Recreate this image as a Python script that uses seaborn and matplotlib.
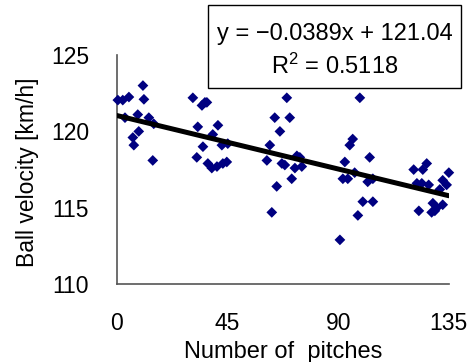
"""
Ball velocity vs number of pitches — scatter with linear trend line.
"""

import numpy as np
import pandas as pd
import matplotlib
matplotlib.use("Agg")
import matplotlib.pyplot as plt
from matplotlib.patches import Rectangle
import seaborn as sns

# ── Data ────────────────────────────────────────────────────────────────────
pitches = [
    0.4, 2.4, 4.9, 10.6, 11.0, 3.3, 8.5, 13.0, 15.0, 6.5, 8.9, 6.9, 14.6,
    30.9, 34.6, 35.8, 36.6, 32.9, 41.1, 39.0, 35.0, 32.5, 37.0, 38.6, 40.7,
    43.1, 44.7, 42.7, 45.1,
    69.1, 64.2, 70.3, 66.3, 62.2, 61.0, 67.1, 68.3, 73.2, 74.4, 75.2, 72.4,
    71.1, 65.0, 63.0,
    98.8, 95.9, 94.7, 92.7, 91.9, 93.9, 102.8, 96.7, 102.0, 104.1, 100.0,
    104.1, 98.0, 90.7,
    126.0, 120.7, 124.4, 135.0, 132.5, 134.1, 122.0, 124.0, 126.8, 131.3,
    122.8, 128.5, 132.5, 128.0, 129.3, 130.1,
]
velocity = [
    122.05, 122.05, 122.25, 123.0, 122.1, 120.9, 121.1, 120.9, 120.5, 119.6,
    120.0, 119.1, 118.1,
    122.2, 121.7, 121.9, 121.9, 120.3, 120.4, 119.8, 119.0, 118.3, 117.9,
    117.6, 117.7, 117.9, 118.0, 119.1, 119.2,
    122.2, 120.9, 120.9, 120.0, 119.1, 118.1, 117.9, 117.8, 118.4, 118.3,
    117.7, 117.6, 116.9, 116.4, 114.7,
    122.2, 119.5, 119.1, 118.0, 116.9, 116.9, 118.3, 117.3, 116.7, 116.9,
    115.4, 115.4, 114.5, 112.9,
    117.9, 117.5, 117.5, 117.3, 116.8, 116.5, 116.6, 116.6, 116.5, 116.2,
    114.8, 115.3, 115.2, 114.7, 114.8, 115.0,
]

# trend line reported in the chart
slope     = -0.0389
intercept = 121.04
r_squared = 0.5118

x_ticks = [0, 45, 90, 135]
y_ticks = [110, 115, 120, 125]

# ── Plot ────────────────────────────────────────────────────────────────────
sns.set_style("white")
plt.rcParams["font.family"] = ["Liberation Sans", "DejaVu Sans"]
plt.rcParams["text.color"] = "black"
plt.rcParams["axes.labelcolor"] = "black"
plt.rcParams["xtick.labelcolor"] = "black"
plt.rcParams["ytick.labelcolor"] = "black"

df = pd.DataFrame({"pitches": pitches, "velocity": velocity})
fit_x = np.array([x_ticks[0], x_ticks[-1]], dtype=float)
fit = pd.DataFrame({"pitches": fit_x, "velocity": intercept + slope * fit_x})

fig = plt.figure(figsize=(4.77, 3.62), dpi=100)
ax = fig.add_axes([0.245, 0.215, 0.696, 0.633])

sns.scatterplot(
    data=df, x="pitches", y="velocity", ax=ax,
    marker="D", s=30, color="#000080", edgecolor="none", zorder=3,
    clip_on=False,
)
sns.lineplot(
    data=fit, x="pitches", y="velocity", ax=ax,
    color="black", linewidth=3.6, zorder=4,
)

ax.set_xlim(x_ticks[0], x_ticks[-1])
ax.set_ylim(y_ticks[0], y_ticks[-1])
ax.set_xticks(x_ticks)
ax.set_yticks(y_ticks)
ax.tick_params(direction="in", length=6, width=1, color="#555555",
               labelsize=16.5, pad=20, labelcolor="black")

for side in ("top", "right"):
    ax.spines[side].set_visible(False)
for side in ("left", "bottom"):
    ax.spines[side].set_color("#555555")
    ax.spines[side].set_linewidth(1.2)

ax.set_xlabel("Number of  pitches", fontsize=17, color="black")
ax.set_ylabel("Ball velocity [km/h]", fontsize=16.5, color="black")
ax.xaxis.set_label_coords(0.5, -0.25)
ax.yaxis.set_label_coords(-0.235, 0.49)

# equation box
fig.add_artist(Rectangle((0.436, 0.757), 0.530, 0.229, transform=fig.transFigure,
                         facecolor="white", edgecolor="black", linewidth=1))
fig.text(0.701, 0.907, f"y = \u2212{abs(slope):.4f}x + {intercept:.2f}",
         ha="center", va="center", fontsize=17, color="black")
fig.text(0.701, 0.816, f"$\\mathregular{{R^2}}$ = {r_squared:.4f}",
         ha="center", va="center", fontsize=17, color="black")

fig.savefig("out.png", dpi=100)
